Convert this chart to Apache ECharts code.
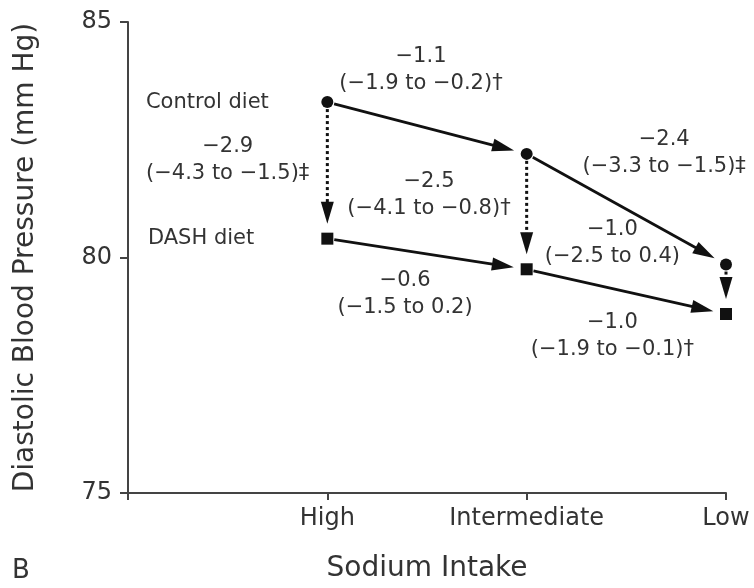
<!DOCTYPE html>
<html lang="en">
<head>
    <meta charset="utf-8">
    <title>Diastolic BP by sodium intake</title>
    <script src="https://cdn.jsdelivr.net/npm/echarts@6/dist/echarts.min.js"></script>
    <style>
        html, body { margin: 0; padding: 0; background: #fff; }
        #main { width: 754px; height: 588px; }
    </style>
</head>
<body>
<div id="main"></div>
<script type="text/javascript">
    // sodium levels, x index 0..2
    var categories = ['High', 'Intermediate', 'Low'];
    var controlDiet = [83.3, 82.2, 79.85];
    var dashDiet = [80.4, 79.75, 78.8];
    var yTicks = [75, 80, 85];

    // effect labels (mean change, 95% CI)
    var effectTexts = [
        '\u22121.1\n(\u22121.9 to \u22120.2)\u2020',
        '\u22122.9\n(\u22124.3 to \u22121.5)\u2021',
        '\u22122.5\n(\u22124.1 to \u22120.8)\u2020',
        '\u22122.4\n(\u22123.3 to \u22121.5)\u2021',
        '\u22121.0\n(\u22122.5 to 0.4)',
        '\u22120.6\n(\u22121.5 to 0.2)',
        '\u22121.0\n(\u22121.9 to \u22120.1)\u2020'
    ];
    // where each label sits, in axis units
    var effectPos = [
        [0.47, 83.97], [-0.5, 82.07], [0.51, 81.32], [1.69, 82.22],
        [1.43, 80.31], [0.39, 79.23], [1.43, 78.33]
    ];
    var dietNames = ['Control diet', 'DASH diet'];
    var dietNamePos = [[-0.91, 83.3], [-0.9, 80.4]];

    var FONT = '"DejaVu Sans", sans-serif';

    // arrows: along each diet line, then control -> DASH at each level
    var arrows = [];
    for (var i = 0; i < categories.length - 1; i++) {
        arrows.push([i, controlDiet[i], i + 1, controlDiet[i + 1], 0]);
        arrows.push([i, dashDiet[i], i + 1, dashDiet[i + 1], 0]);
    }
    for (var j = 0; j < categories.length; j++) {
        arrows.push([j, controlDiet[j], j, dashDiet[j], 1]);
    }

    var texts = [];
    for (var k = 0; k < effectTexts.length; k++) {
        texts.push([effectPos[k][0], effectPos[k][1], k, 0]);
    }
    for (var m = 0; m < dietNames.length; m++) {
        texts.push([dietNamePos[m][0], dietNamePos[m][1], m, 1]);
    }

    var myChart = echarts.init(document.getElementById('main'), null, {renderer: 'canvas'});

    var option = {
        animation: false,
        backgroundColor: '#fff',
        textStyle: {fontFamily: FONT},
        grid: {left: 128, right: 28, top: 22, bottom: 88, containLabel: false},
        graphic: [{
            type: 'text', left: 12, top: 558,
            style: {text: 'B', font: '26px ' + FONT, fill: '#333'}
        }],
        xAxis: {
            type: 'value',
            min: -1, max: 2, interval: 1,
            name: 'Sodium Intake',
            nameLocation: 'middle',
            nameGap: 62,
            nameTextStyle: {fontSize: 28, color: '#333', fontFamily: FONT},
            axisLine: {onZero: false, lineStyle: {color: '#444', width: 2}},
            axisTick: {length: 7, lineStyle: {color: '#444', width: 2}},
            axisLabel: {
                fontSize: 24, color: '#333', margin: 14, fontFamily: FONT,
                formatter: function (v) { return categories[v] || ''; }
            },
            splitLine: {show: false}
        },
        yAxis: {
            type: 'value',
            min: yTicks[0], max: yTicks[yTicks.length - 1], interval: 5,
            name: 'Diastolic Blood Pressure (mm Hg)',
            nameLocation: 'middle',
            nameGap: 88,
            nameTextStyle: {fontSize: 28, color: '#333', fontFamily: FONT},
            axisLine: {show: true, onZero: false, lineStyle: {color: '#444', width: 2}},
            axisTick: {show: true, length: 8, lineStyle: {color: '#444', width: 2}},
            axisLabel: {fontSize: 24, color: '#333', margin: 16, fontFamily: FONT},
            splitLine: {show: false}
        },
        series: [
            {
                name: 'arrows',
                type: 'custom',
                coordinateSystem: 'cartesian2d',
                encode: {x: [0, 2], y: [1, 3]},
                z: 2,
                renderItem: function (params, api) {
                    var p1 = api.coord([api.value(0), api.value(1)]);
                    var p2 = api.coord([api.value(2), api.value(3)]);
                    var dotted = api.value(4) === 1;
                    var dx = p2[0] - p1[0], dy = p2[1] - p1[1];
                    var len = Math.sqrt(dx * dx + dy * dy);
                    var ux = dx / len, uy = dy / len, nx = -uy, ny = ux;
                    var startGap = 7, endGap = dotted ? 15 : 13, headLen = 22, headW = 6.5;
                    var tip = [p2[0] - ux * endGap, p2[1] - uy * endGap];
                    var base = [tip[0] - ux * headLen, tip[1] - uy * headLen];
                    var start = [p1[0] + ux * startGap, p1[1] + uy * startGap];
                    return {
                        type: 'group',
                        children: [{
                            type: 'line',
                            shape: {x1: start[0], y1: start[1], x2: base[0] + ux * 2, y2: base[1] + uy * 2},
                            style: {
                                stroke: '#111',
                                lineWidth: dotted ? 3 : 2.8,
                                lineDash: dotted ? [3, 3] : null
                            }
                        }, {
                            type: 'polygon',
                            shape: {points: [tip, [base[0] + nx * headW, base[1] + ny * headW], [base[0] - nx * headW, base[1] - ny * headW]]},
                            style: {fill: '#111'}
                        }]
                    };
                },
                data: arrows
            },
            {
                name: 'Control diet',
                type: 'line',
                data: categories.map(function (c, i) { return [i, controlDiet[i]]; }),
                symbol: 'circle',
                symbolSize: 12,
                lineStyle: {width: 0, opacity: 0},
                itemStyle: {color: '#111'},
                z: 3
            },
            {
                name: 'DASH diet',
                type: 'line',
                data: categories.map(function (c, i) { return [i, dashDiet[i]]; }),
                symbol: 'rect',
                symbolSize: 12,
                lineStyle: {width: 0, opacity: 0},
                itemStyle: {color: '#111'},
                z: 3
            },
            {
                name: 'labels',
                type: 'custom',
                coordinateSystem: 'cartesian2d',
                encode: {x: 0, y: 1},
                z: 4,
                renderItem: function (params, api) {
                    var p = api.coord([api.value(0), api.value(1)]);
                    var isName = api.value(3) === 1;
                    var idx = api.value(2);
                    return {
                        type: 'text',
                        x: p[0], y: p[1],
                        style: {
                            text: isName ? dietNames[idx] : effectTexts[idx],
                            font: '21px ' + FONT,
                            fill: '#333',
                            align: isName ? 'left' : 'center',
                            verticalAlign: 'middle',
                            lineHeight: 27
                        }
                    };
                },
                data: texts
            }
        ]
    };

    myChart.setOption(option);
</script>
</body>
</html>
